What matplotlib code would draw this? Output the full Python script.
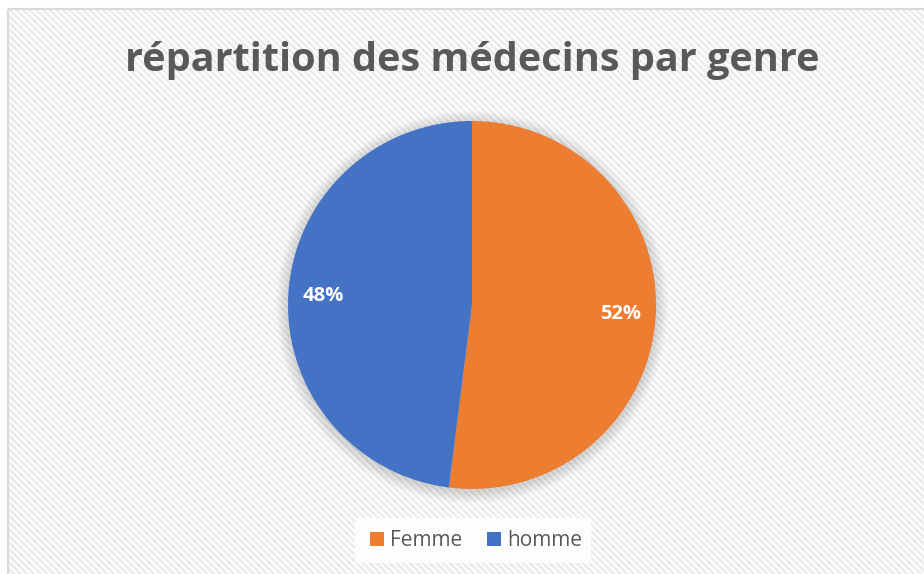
import matplotlib
matplotlib.use("Agg")
import matplotlib.pyplot as plt
from matplotlib.patches import Rectangle, Circle
import numpy as np

labels = ["Femme", "homme"]
values = [52, 48]
colors = ["#ED7D31", "#4472C4"]
title = "répartition des médecins par genre"

plt.rcParams["font.family"] = ["Open Sans", "DejaVu Sans"]
plt.rcParams["hatch.linewidth"] = 2.0

W, H = 924, 574
fig = plt.figure(figsize=(W / 100, H / 100), dpi=100)

# striped background and the chart border
bg = fig.add_axes([0, 0, 1, 1])
bg.set_xlim(0, W)
bg.set_ylim(H, 0)
bg.axis("off")
bg.add_patch(Rectangle((8, 9), W + 20, H + 20, facecolor="white",
                       edgecolor="#ececec", linewidth=0, hatch="\\\\\\\\\\"))
bg.add_patch(Rectangle((8, 9), W + 20, H + 20, facecolor="none",
                       edgecolor="#d9d9d9", linewidth=1.5))

# soft shadow behind the pie
cx, cy, r = 472, 305, 184
for k in range(12):
    bg.add_patch(Circle((cx, cy + 2), r + 12 - k, facecolor="black",
                        edgecolor="none", alpha=0.012))

# pie
size = 2 * r
ax = fig.add_axes([(cx - r) / W, 1 - (cy + r) / H, size / W, size / H])
wedges, texts, autotexts = ax.pie(
    values, colors=colors, startangle=90, counterclock=False,
    autopct="%1.0f%%", pctdistance=0.81, radius=1.0,
    wedgeprops=dict(linewidth=0),
    textprops=dict(color="white", fontsize=14.5, fontweight="bold"))
ax.set_xlim(-1, 1)
ax.set_ylim(-1, 1)
ax.set_aspect("equal")

fig.text(cx / W, 1 - 61 / H, title, ha="center", va="center",
         fontsize=28.5, fontweight="bold", color="#595959")

# legend
bg.add_patch(Rectangle((355, 518), 236, 45, facecolor="white",
                       edgecolor="none", alpha=0.9))
leg = fig.legend(wedges, labels, loc="center", bbox_to_anchor=(476 / W, 1 - 541 / H),
                 ncol=2, frameon=False, fontsize=15, handlelength=0.65,
                 handleheight=0.65, handletextpad=0.3, columnspacing=1.2,
                 labelcolor="#595959")

fig.savefig("out.png", dpi=100)
